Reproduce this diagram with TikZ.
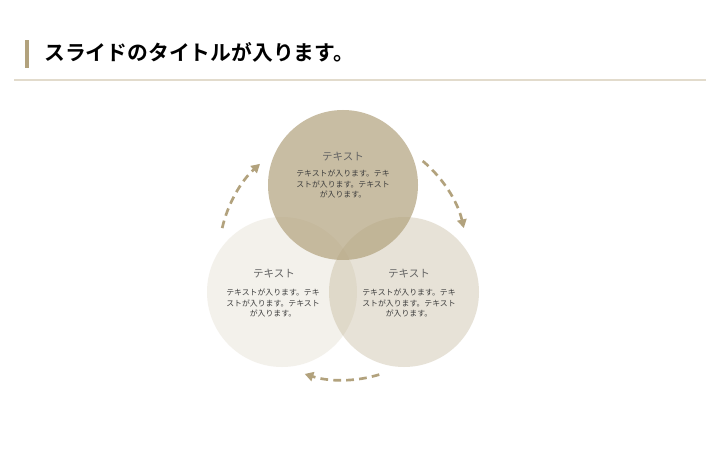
\documentclass[tikz,border=0pt]{standalone}
\usepackage{fontspec}
\usetikzlibrary{arrows.meta,calc}
\newfontfamily\jp{Noto Sans CJK JP}[BoldFont={Noto Sans CJK JP Bold}]
\definecolor{tan}{RGB}{178,162,125}
\definecolor{rulecol}{RGB}{226,219,204}
\definecolor{headcol}{RGB}{100,100,100}
\definecolor{bodycol}{RGB}{60,60,60}
\begin{document}
\begin{tikzpicture}[x=0.75pt,y=0.75pt,
  bubble/.style={circle,minimum size=112.5pt,inner sep=0pt,fill=tan},
  headtxt/.style={font=\jp\fontsize{7.9pt}{9pt}\selectfont,text=headcol,inner sep=0pt},
  bodytxt/.style={font=\jp\fontsize{5.9pt}{7.9pt}\selectfont,text=bodycol,align=center,inner sep=0pt},
  cyc/.style={draw=tan,line width=2pt,dash pattern=on 5.8pt off 3.9pt,-{Triangle[length=6.5pt,width=7pt]}}]
\useasboundingbox (0,0) rectangle (720,450);
\fill[white] (0,0) rectangle (720,450);
% title
\fill[tan] (25,382) rectangle (29,410);
\node[anchor=west,inner sep=0pt,font=\jp\bfseries\fontsize{15.6pt}{18pt}\selectfont] (title) at (44,398) {スライドのタイトルが入ります。};
\draw[rulecol,line width=1.1pt] (14,370) -- (706,370);
% circles
\node[bubble,fill opacity=0.15] (left) at (282,158) {};
\node[bubble,fill opacity=0.30] (right) at (404,158) {};
\node[bubble,fill opacity=0.70] (top) at (343,265) {};
% texts
\node[headtxt] (toph) at (343,293) {テキスト};
\node[bodytxt] (topb) at (343,266) {テキストが入ります。テキ\\ストが入ります。テキスト\\が入ります。};
\node[headtxt] (lefth) at (274,176) {テキスト};
\node[bodytxt] (leftb) at (273,147) {テキストが入ります。テキ\\ストが入ります。テキスト\\が入ります。};
\node[headtxt] (righth) at (409,176) {テキスト};
\node[bodytxt] (rightb) at (409,147) {テキストが入ります。テキ\\ストが入ります。テキスト\\が入ります。};
% cycle arrows
\coordinate (cc) at (343,194);
\coordinate (a1) at ($(cc)+(167:124)$);
\coordinate (a2) at ($(cc)+(50:124)$);
\coordinate (a3) at ($(cc)+(287:124)$);
\draw[cyc] (a1) arc[start angle=167,end angle=132,radius=124];
\draw[cyc] (a2) arc[start angle=50,end angle=13,radius=124];
\draw[cyc] (a3) arc[start angle=287,end angle=252,radius=124];
\end{tikzpicture}
\end{document}
